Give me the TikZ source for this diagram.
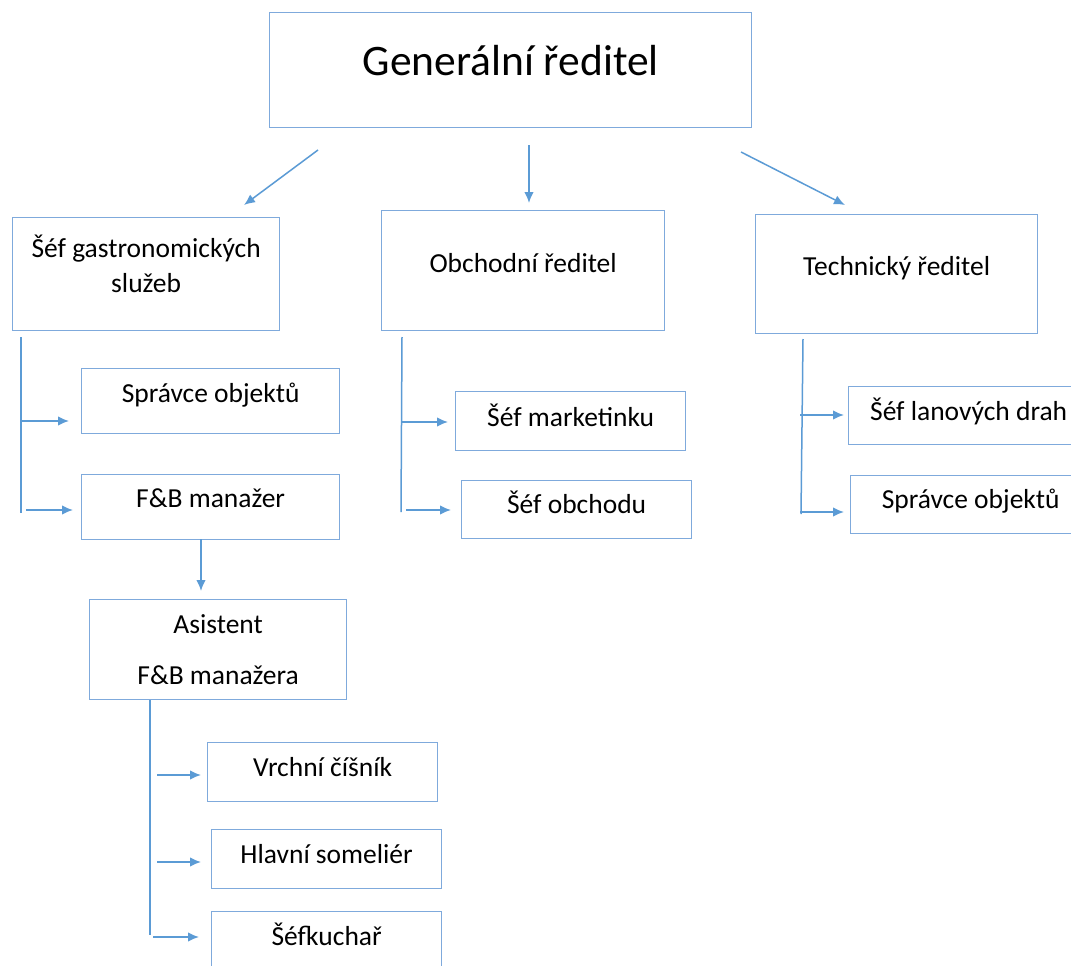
\documentclass[tikz,border=0pt]{standalone}
\usepackage{fontspec}
\setmainfont{Carlito}
\usetikzlibrary{arrows.meta}
\definecolor{linec}{HTML}{5B9BD5}
\definecolor{boxc}{HTML}{7FAADC}
\begin{document}
\begin{tikzpicture}[x=1pt,y=-1pt,
  box/.style={draw=boxc, line width=1.3pt, inner sep=0pt, anchor=north west, align=center,
    font=\fontsize{27.5}{35}\selectfont, text=black},
  conn/.style={draw=linec, line width=1.5pt},
  arr/.style={conn, -{Latex[length=11pt,width=9.5pt]}}]
\useasboundingbox (0,0) rectangle (1071,966);
\clip (0,0) rectangle (1071,966);
\fill[white] (0,0) rectangle (1071,966);
% boxes
\node[box, minimum width=482pt, minimum height=115pt, text height=63pt, text depth=52pt, font=\fontsize{43.5}{48}\selectfont] (gr) at (269,12) {Generální ředitel};
\node[box, minimum width=267pt, minimum height=113pt, text height=75pt, text depth=38pt] (sg) at (12,217) {Šéf gastronomických\\služeb};
\node[box, minimum width=283pt, minimum height=120pt, text height=62pt, text depth=58pt] (ob) at (381,210) {Obchodní ředitel};
\node[box, minimum width=282pt, minimum height=119pt, text height=61pt, text depth=58pt] (te) at (755,214) {Technický ředitel};
\node[box, minimum width=258pt, minimum height=65pt, text height=34pt, text depth=31pt] (so1) at (81,368) {Správce objektů};
\node[box, minimum width=258pt, minimum height=65pt, text height=33pt, text depth=32pt] (fb) at (81,474) {F\&B manažer};
\node[box, minimum width=257pt, minimum height=100pt, text height=85pt, text depth=15pt, font=\fontsize{27.5}{51}\selectfont] (as) at (89,599) {Asistent\\F\&B manažera};
\node[box, minimum width=230pt, minimum height=59pt, text height=34pt, text depth=25pt] (vc) at (207,742) {Vrchní číšník};
\node[box, minimum width=230pt, minimum height=59pt, text height=34pt, text depth=25pt] (hs) at (211,829) {Hlavní someliér};
\node[box, minimum width=230pt, minimum height=70pt, text height=34pt, text depth=36pt] (sk) at (211,911) {Šéfkuchař};
\node[box, minimum width=230pt, minimum height=59pt, text height=35pt, text depth=24pt] (sm) at (455,391) {Šéf marketinku};
\node[box, minimum width=230pt, minimum height=58pt, text height=33pt, text depth=25pt] (sob) at (461,480) {Šéf obchodu};
\node[box, minimum width=240pt, minimum height=58pt, text height=34pt, text depth=24pt] (sl) at (848,386) {Šéf lanových drah};
\node[box, minimum width=240pt, minimum height=58pt, text height=33pt, text depth=25pt] (so2) at (850,475) {Správce objektů};
% coordinates
\coordinate (g1) at (318,150); \coordinate (g1e) at (244,205);
\coordinate (g2) at (529,145); \coordinate (g2e) at (529,203);
\coordinate (g3) at (741,152); \coordinate (g3e) at (845,205);
\coordinate (lt) at (21,337); \coordinate (lb) at (21,513);
\coordinate (la1) at (21,421); \coordinate (la1e) at (69,421);
\coordinate (la2) at (26,510); \coordinate (la2e) at (73,510);
\coordinate (fbd) at (201,539); \coordinate (fbde) at (201,591);
\coordinate (at) at (150,700); \coordinate (ab) at (150,935);
\coordinate (aa1) at (157,775); \coordinate (aa1e) at (201,775);
\coordinate (aa2) at (157,862); \coordinate (aa2e) at (201,862);
\coordinate (aa3) at (153,937); \coordinate (aa3e) at (199,937);
\coordinate (mt) at (402,337); \coordinate (mb) at (401,512);
\coordinate (ma1) at (402,422); \coordinate (ma1e) at (448,422);
\coordinate (ma2) at (406,510); \coordinate (ma2e) at (451,510);
\coordinate (rt) at (803,339); \coordinate (rb) at (801,514);
\coordinate (ra1) at (800,415); \coordinate (ra1e) at (844,415);
\coordinate (ra2) at (800,512); \coordinate (ra2e) at (844,512);
% connectors
\draw[arr] (g1) -- (g1e);
\draw[arr] (g2) -- (g2e);
\draw[arr] (g3) -- (g3e);
\draw[conn] (lt) -- (lb);
\draw[arr] (la1) -- (la1e);
\draw[arr] (la2) -- (la2e);
\draw[arr] (fbd) -- (fbde);
\draw[conn] (at) -- (ab);
\draw[arr] (aa1) -- (aa1e);
\draw[arr] (aa2) -- (aa2e);
\draw[arr] (aa3) -- (aa3e);
\draw[conn] (mt) -- (mb);
\draw[arr] (ma1) -- (ma1e);
\draw[arr] (ma2) -- (ma2e);
\draw[conn] (rt) -- (rb);
\draw[arr] (ra1) -- (ra1e);
\draw[arr] (ra2) -- (ra2e);
\end{tikzpicture}
\end{document}
